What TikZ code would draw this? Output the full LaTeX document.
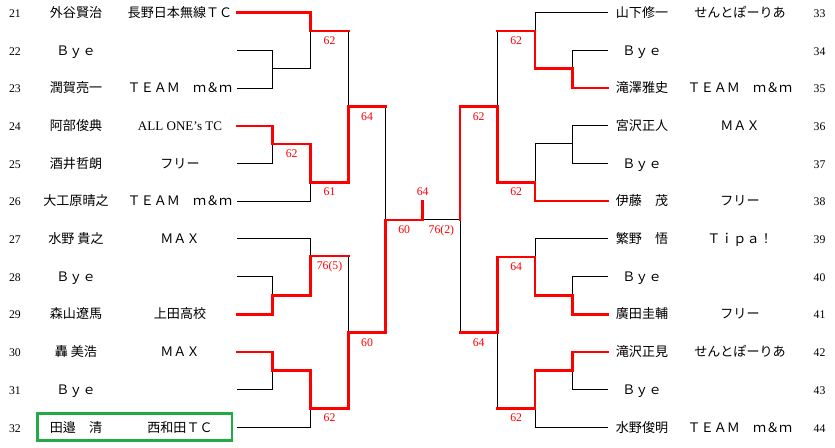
\documentclass[tikz,border=0pt]{standalone}
\usepackage{fontspec}
\setmainfont{Liberation Serif}
\newfontfamily\jp{Noto Sans CJK JP}
\usepackage{tikz}
\definecolor{boxgreen}{RGB}{34,170,68}
\tikzset{
  lose/.style={black, line width=0.75pt},
  win/.style={red, line width=1.9pt, line cap=rect},
  score/.style={text=red, font=\fontsize{8.8}{10}\selectfont, anchor=base, inner sep=0pt, yshift=-10pt},
  seed/.style={anchor=base, inner sep=0pt, font=\fontsize{8.8}{10}\selectfont},
  entry/.style={anchor=base, inner sep=0pt, font=\jp\fontsize{9.8}{11}\selectfont},
}

\begin{document}
\begin{tikzpicture}[x=0.75pt, y=-0.75pt]
\useasboundingbox (0,0) rectangle (835,448);
% left half
\foreach \n/\who/\club [count=\k from 0] in {21/外谷賢治/長野日本無線ＴＣ, 22/Ｂｙｅ/{}, 23/潤賀亮一/ＴＥＡＭ　ｍ＆ｍ, 24/阿部俊典/{\rmfamily ALL ONE’s TC}, 25/酒井哲朗/フリー, 26/大工原晴之/ＴＥＡＭ　ｍ＆ｍ, 27/水野 貴之/ＭＡＸ, 28/Ｂｙｅ/{}, 29/森山遼馬/上田高校, 30/轟 美浩/ＭＡＸ, 31/Ｂｙｅ/{}, 32/田邉　清/西和田ＴＣ}{
  \pgfmathsetmacro\yy{12.7+37.7*\k}
  \node[seed] (no\n) at (15,\yy+4.7) {\n};
  \node[entry] (who\n) at (76,\yy+4.7) {\who};
  \node[entry] (club\n) at (180,\yy+4.7) {\club};
  \coordinate (L\n) at (237,\yy);
}
% right half
\foreach \n/\who/\club [count=\k from 0] in {33/山下修一/せんとぽーりあ, 34/Ｂｙｅ/{}, 35/滝澤雅史/ＴＥＡＭ　ｍ＆ｍ, 36/宮沢正人/ＭＡＸ, 37/Ｂｙｅ/{}, 38/伊藤　茂/フリー, 39/繁野　悟/Ｔｉｐａ！, 40/Ｂｙｅ/{}, 41/廣田圭輔/フリー, 42/滝沢正見/せんとぽーりあ, 43/Ｂｙｅ/{}, 44/水野俊明/ＴＥＡＭ　ｍ＆ｍ}{
  \pgfmathsetmacro\yy{12.7+37.7*\k}
  \node[seed] (no\n) at (819.5,\yy+4.7) {\n};
  \node[entry] (who\n) at (642,\yy+4.7) {\who};
  \node[entry] (club\n) at (740,\yy+4.7) {\club};
  \coordinate (R\n) at (607.7,\yy);
}
\draw[boxgreen, line width=2pt] (37.3,413.6) rectangle (232,440.4);

% match points
\coordinate (m1) at (272.7,68.7);
\coordinate (m2) at (272.7,144);
\coordinate (m3) at (272.7,295.7);
\coordinate (m4) at (272.7,370.7);
\coordinate (m5) at (310.7,31);
\coordinate (m6) at (310.7,182.3);
\coordinate (m7) at (310.7,256);
\coordinate (m8) at (310.7,408.3);
\coordinate (m9) at (348.3,106.7);
\coordinate (m10) at (348.3,332.7);
\coordinate (m11) at (385.7,220);
\coordinate (r1) at (572.3,68.7);
\coordinate (r2) at (572.3,144);
\coordinate (r3) at (572.3,295.7);
\coordinate (r4) at (572.3,370.7);
\coordinate (r5) at (535,31);
\coordinate (r6) at (535,182.3);
\coordinate (r7) at (535,257);
\coordinate (r8) at (535,408.3);
\coordinate (r9) at (497.3,106.7);
\coordinate (r10) at (497.3,332.7);
\coordinate (r11) at (460,220);
\coordinate (mid) at (422.7,220);
\coordinate (fin) at (422.7,201.7);

\foreach \a/\b in {L21/m5, L22/m1, L23/m1, L24/m2, L25/m2, L26/m6, L27/m7, L28/m3, L29/m3, L30/m4, L31/m4, L32/m8, m1/m5, m2/m6, m3/m7, m4/m8, m5/m9, m6/m9, m7/m10, m8/m10, m9/m11, m10/m11,
  R33/r5, R34/r1, R35/r1, R36/r2, R37/r2, R38/r6, R39/r7, R40/r3, R41/r3, R42/r4, R43/r4, R44/r8, r1/r5, r2/r6, r3/r7, r4/r8, r5/r9, r6/r9, r7/r10, r8/r10, r9/r11, r10/r11}
  \draw[lose] (\a) -| (\b);
\draw[lose] (r11) -- (mid);

% winners
\foreach \a/\b in {L21/m5, L24/m2, L29/m3, L30/m4, m2/m6, m3/m7, m4/m8, m6/m9, m8/m10, m10/m11, m11/fin,
  R35/r1, R41/r3, R42/r4, R38/r6, r1/r5, r3/r7, r4/r8, r6/r9, r7/r10, r9/r11}
  \draw[win] (\a) -| (\b);
\foreach \a/\b in {m5/m9, m7/m10, m9/m11, r5/r9, r8/r10, r10/r11}
  \draw[win] (\a) -- (\a -| \b);

% scores
\foreach \a/\b/\s in {m2/m6/62, m5/m9/62, m6/m9/61, m9/m11/64, m7/m10/76(5), m8/m10/62, m10/m11/60, m11/mid/60,
  r5/r9/62, r6/r9/62, r9/r11/62, r7/r10/64, r8/r10/62, r10/r11/64, r11/mid/76(2)}
  \path (\a) -- (\a -| \b) node[score, midway] {\s};
\node[text=red, font=\fontsize{8.8}{10}\selectfont, anchor=base, inner sep=0pt, yshift=5pt] at (fin) {64};
\end{tikzpicture}
\end{document}
